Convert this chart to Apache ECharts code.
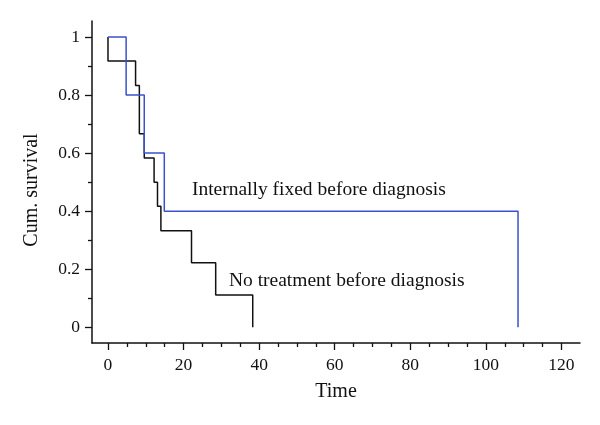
<!DOCTYPE html>
<html>
<head>
<meta charset="utf-8">
<script src="https://cdn.jsdelivr.net/npm/echarts@6/dist/echarts.min.js"></script>
<style>
html,body{margin:0;padding:0;background:#fff;}
#main{width:600px;height:425px;}
</style>
</head>
<body>
<div id="main"></div>
<script>
// Kaplan-Meier steps: [time, cumulative survival]
var noTreatment = [[0,1],[0,0.917],[7.3,0.833],[8.3,0.667],[9.6,0.583],[12.2,0.5],[13.1,0.417],[14,0.333],[22.1,0.222],[28.5,0.111],[38.3,0]];
var internallyFixed = [[0,1],[4.8,0.8],[9.6,0.6],[14.9,0.4],[108.5,0]];
var xLabels = [0,20,40,60,80,100,120];
var xMinor = [5,10,15,25,30,35,45,50,55,65,70,75,85,90,95,105,110,115];
var yLabels = [0,0.2,0.4,0.6,0.8,1];
var yMinor = [0.1,0.3,0.5,0.7,0.9];
var notes = [
  {name:'Internally fixed before diagnosis', value:[22.2,0.473]},
  {name:'No treatment before diagnosis', value:[32,0.16]}
];

var font = 'Liberation Serif';
var xRange = [-4.23, 124.9];
var yRange = [-0.054, 1.055];

function tickAxis(range, pos, values, len) {
  return {
    type: 'value', min: range[0], max: range[1], position: pos,
    axisLine: {show: false, onZero: false},
    axisTick: {show: true, customValues: values, length: len, lineStyle: {color: '#111', width: 1.3}},
    axisLabel: {show: false},
    splitLine: {show: false}
  };
}

var dom = document.getElementById('main');
var myChart = echarts.init(dom);
var option = {
  backgroundColor: '#fff',
  animation: false,
  grid: {left: 92, right: 20, top: 21, bottom: 82, containLabel: false},
  xAxis: [{
    type: 'value', min: xRange[0], max: xRange[1], position: 'bottom',
    name: 'Time', nameLocation: 'middle', nameGap: 39,
    nameTextStyle: {fontFamily: font, fontSize: 20, color: '#111'},
    axisLine: {show: true, onZero: false, lineStyle: {color: '#111', width: 1.5}},
    axisTick: {show: false},
    axisLabel: {customValues: xLabels, margin: 13, fontFamily: font, fontSize: 17.5, color: '#111'},
    splitLine: {show: false}
  }, tickAxis(xRange, 'bottom', xLabels, 7), tickAxis(xRange, 'bottom', xMinor, 4)],
  yAxis: [{
    type: 'value', min: yRange[0], max: yRange[1], position: 'left',
    name: 'Cum. survival', nameLocation: 'middle', nameGap: 50,
    nameTextStyle: {fontFamily: font, fontSize: 20, color: '#111', padding: [0, 16, 0, 0]},
    axisLine: {show: true, onZero: false, lineStyle: {color: '#111', width: 1.5}},
    axisTick: {show: false},
    axisLabel: {customValues: yLabels, margin: 12, fontFamily: font, fontSize: 17.5, color: '#111'},
    splitLine: {show: false}
  }, tickAxis(yRange, 'left', yLabels, 7), tickAxis(yRange, 'left', yMinor, 4)],
  series: [{
    name: 'No treatment before diagnosis',
    type: 'line', step: 'end', showSymbol: false,
    lineStyle: {color: '#111', width: 1.5},
    data: noTreatment
  }, {
    name: 'Internally fixed before diagnosis',
    type: 'line', step: 'end', showSymbol: false,
    lineStyle: {color: '#3a50cc', width: 1.5},
    data: internallyFixed
  }, {
    type: 'scatter', symbolSize: 0, silent: true,
    itemStyle: {opacity: 1},
    label: {show: true, position: 'right', distance: 0, formatter: '{b}', opacity: 1,
      textBorderWidth: 0, fontFamily: font, fontSize: 19.5, color: '#111'},
    data: notes
  }]
};
myChart.setOption(option);
</script>
</body>
</html>
